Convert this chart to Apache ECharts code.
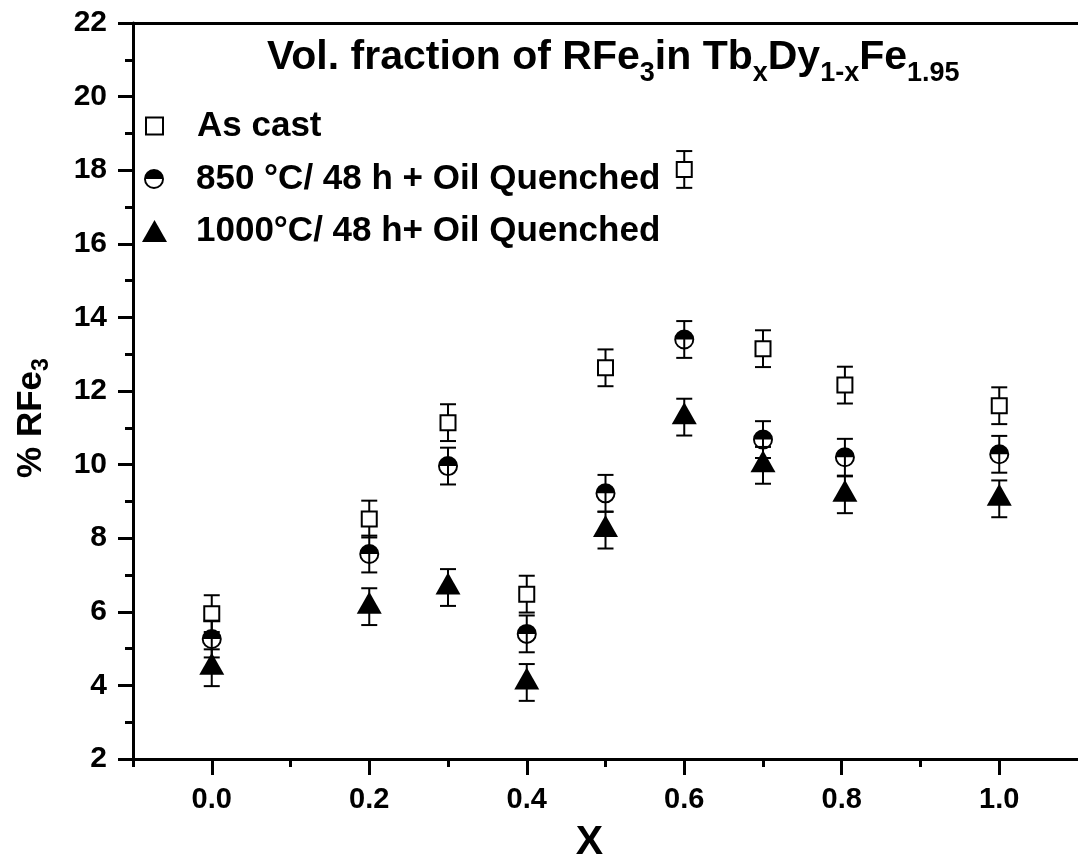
<!DOCTYPE html>
<html>
<head>
<meta charset="utf-8">
<script src="https://cdn.jsdelivr.net/npm/echarts@6/dist/echarts.min.js"></script>
<style>
html,body{margin:0;padding:0;background:#fff;}
#chart{width:1078px;height:859px;}
</style>
</head>
<body>
<div id="chart"></div>
<script>
// ---- data ----
const xValues   = [0.0, 0.2, 0.3, 0.4, 0.5, 0.6, 0.7, 0.804, 1.0];
const asCast    = [5.95, 8.52, 11.14, 6.48, 12.63, 18.02, 13.15, 12.16, 11.6];
const q850      = [5.26, 7.57, 9.96, 5.40, 9.22, 13.40, 10.68, 10.20, 10.28];
const q1000     = [4.48, 6.14, 6.66, 4.08, 8.22, 11.29, 9.98, 9.18, 9.07];
const errAsCast = [0.5, 0.5, 0.5, 0.5, 0.5, 0.5, 0.5, 0.5, 0.5];
const err850    = [0.5, 0.5, 0.5, 0.5, 0.5, 0.5, 0.5, 0.5, 0.5];
const err1000   = [0.5, 0.5, 0.5, 0.5, 0.5, 0.5, 0.5, 0.5, 0.5];
const seriesNames = ['As cast', '850 °C/ 48 h + Oil Quenched', '1000°C/ 48 h+ Oil Quenched'];
const xMajorTicks = [0.0, 0.2, 0.4, 0.6, 0.8, 1.0];
const xMinorTicks = [-0.1, 0.1, 0.3, 0.5, 0.7, 0.9];

const FONT = '"Liberation Sans", Arial, Helvetica, sans-serif';
const halfCircle = 'path://M0,10A10,10,0,1,1,20,10A10,10,0,1,1,0,10ZM1.9,10A8.1,8.1,0,0,0,18.1,10Z';

function pts(ys, es) { return xValues.map((x, i) => [x, ys[i], es[i]]); }

function errorBarSeries(ys, es, z) {
  return {
    type: 'custom',
    name: 'err' + z,
    z: z,
    silent: true,
    data: pts(ys, es),
    encode: { x: 0, y: 1 },
    renderItem: function (params, api) {
      const x = api.value(0), y = api.value(1), e = api.value(2);
      const t = api.coord([x, y + e]);
      const b = api.coord([x, y - e]);
      const w = 8;
      const st = { stroke: '#000', lineWidth: 2 };
      return {
        type: 'group',
        children: [
          { type: 'line', shape: { x1: t[0], y1: t[1], x2: b[0], y2: b[1] }, style: st },
          { type: 'line', shape: { x1: t[0] - w, y1: t[1], x2: t[0] + w, y2: t[1] }, style: st },
          { type: 'line', shape: { x1: b[0] - w, y1: b[1], x2: b[0] + w, y2: b[1] }, style: st }
        ]
      };
    }
  };
}

function legendFor(name, icon, w, h, left, top, pad) {
  return {
    show: true, orient: 'vertical', left: left, top: top, padding: 0,
    itemWidth: w, itemHeight: h, selectedMode: false,
    data: [{ name: name, icon: icon }],
    textStyle: { fontFamily: FONT, fontWeight: 'bold', fontSize: 35, color: '#000', lineHeight: 42, padding: [0, 0, 0, pad] }
  };
}

const chart = echarts.init(document.getElementById('chart'), null, { renderer: 'canvas' });
const axisLine = { show: true, onZero: false, lineStyle: { color: '#000', width: 3 } };

chart.setOption({
  backgroundColor: '#fff',
  animation: false,
  title: {
    text: 'Vol. fraction of RFe{s|3}in Tb{s|x}Dy{s|1-x}Fe{s|1.95}',
    left: 262, top: 30,
    textStyle: {
      fontFamily: FONT, fontWeight: 'bold', fontSize: 41, color: '#000', lineHeight: 46,
      rich: { s: { fontFamily: FONT, fontWeight: 'bold', fontSize: 27, color: '#000', lineHeight: 28, padding: [32, 0, 0, 0] } }
    }
  },
  legend: [
    legendFor(seriesNames[0], 'rect', 17, 17, 145, 105, 29),
    legendFor(seriesNames[1], halfCircle, 20, 20, 144, 158, 27),
    legendFor(seriesNames[2], 'triangle', 25, 22, 142, 210, 24)
  ],
  grid: { left: 133, right: 0, top: 23, bottom: 100, containLabel: false, outerBoundsMode: 'none' },
  xAxis: [
    {
      type: 'value', min: -0.1, max: 1.1, interval: 0.1, position: 'bottom',
      name: 'X', nameLocation: 'middle', nameGap: 63,
      nameTextStyle: { fontFamily: FONT, fontWeight: 'bold', fontSize: 41, color: '#000', padding: [0, 32, 0, 0] },
      axisLine: axisLine,
      axisTick: { show: true, inside: false, length: 16, customValues: xMajorTicks, lineStyle: { color: '#000', width: 3 } },
      axisLabel: { show: true, customValues: xMajorTicks, margin: 26, formatter: v => v.toFixed(1),
        fontFamily: FONT, fontWeight: 'bold', fontSize: 29, color: '#000' },
      splitLine: { show: false }
    },
    {
      type: 'value', min: -0.1, max: 1.1, interval: 0.1, position: 'bottom',
      axisLine: { show: false },
      axisTick: { show: true, inside: false, length: 8, customValues: xMinorTicks, lineStyle: { color: '#000', width: 3 } },
      axisLabel: { show: false },
      splitLine: { show: false }
    },
    {
      type: 'value', min: -0.1, max: 1.1, position: 'top',
      axisLine: axisLine,
      axisTick: { show: false }, axisLabel: { show: false }, splitLine: { show: false }
    }
  ],
  yAxis: {
    type: 'value', min: 2, max: 22, interval: 2, position: 'left',
    name: '% RFe{s|3}', nameLocation: 'middle', nameGap: 82, nameRotate: 90,
    nameTextStyle: {
      fontFamily: FONT, fontWeight: 'bold', fontSize: 35, color: '#000', lineHeight: 40,
      padding: [0, 54, 0, 0],
      rich: { s: { fontFamily: FONT, fontWeight: 'bold', fontSize: 23, color: '#000', lineHeight: 24, padding: [22, 0, 0, 0] } }
    },
    axisLine: axisLine,
    axisTick: { show: true, inside: false, length: 15, lineStyle: { color: '#000', width: 3 } },
    minorTick: { show: true, splitNumber: 2, length: 8, lineStyle: { color: '#000', width: 3 } },
    axisLabel: { margin: 26, fontFamily: FONT, fontWeight: 'bold', fontSize: 30, color: '#000' },
    splitLine: { show: false }, minorSplitLine: { show: false }
  },
  series: [
    errorBarSeries(asCast, errAsCast, 1),
    {
      type: 'scatter', name: seriesNames[0], z: 2, data: pts(asCast, errAsCast),
      symbol: 'rect', symbolSize: 15,
      itemStyle: { color: '#fff', borderColor: '#000', borderWidth: 2, opacity: 1 }
    },
    errorBarSeries(q850, err850, 3),
    {
      type: 'scatter', name: seriesNames[1], z: 4, data: pts(q850, err850),
      symbol: halfCircle, symbolSize: 20,
      itemStyle: { color: '#000', opacity: 1 }
    },
    errorBarSeries(q1000, err1000, 5),
    {
      type: 'scatter', name: seriesNames[2], z: 6, data: pts(q1000, err1000),
      symbol: 'triangle', symbolSize: [25, 22], symbolOffset: [0, -4],
      itemStyle: { color: '#000', opacity: 1 }
    }
  ]
});
</script>
</body>
</html>
